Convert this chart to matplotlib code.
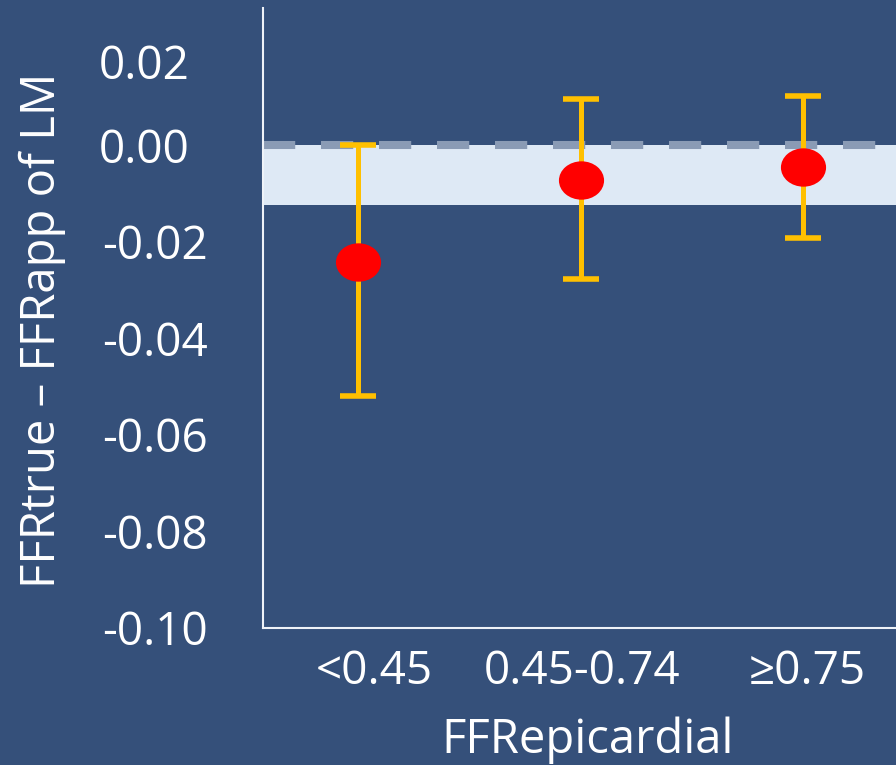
import numpy as np
import matplotlib
matplotlib.use("Agg")
import matplotlib.pyplot as plt
import matplotlib.transforms as mtransforms
from matplotlib.path import Path

# data
groups = ["<0.45", "0.45-0.74", "\u22650.75"]
mean_diff = [-0.0242, -0.0072, -0.0045]
ci_low = [-0.0520, -0.0277, -0.0192]
ci_high = [0.0000, 0.0095, 0.0101]
band_low, band_high = -0.0124, 0.0
y_ticks = [0.02, 0.00, -0.02, -0.04, -0.06, -0.08, -0.10]

BG = "#35507a"
FS = 33
plt.rcParams["font.family"] = ["Open Sans", "DejaVu Sans"]

fig = plt.figure(figsize=(8.96, 7.65), dpi=100)
fig.patch.set_facecolor(BG)
ax = fig.add_axes([263 / 896, 1 - 628 / 765, 1 - 263 / 896, (628 - 8) / 765])
ax.set_facecolor(BG)

x = np.arange(len(groups))
y = np.array(mean_diff)
yerr = np.vstack([y - np.array(ci_low), np.array(ci_high) - y])

# reference band and zero line
ax.axhspan(band_low, band_high, color="#dee9f5", zorder=1, lw=0)
ax.axhline(0, color="#8a9bb5", lw=5.8, dashes=(4, 3.2), zorder=2)

# slightly flattened marker, like the slide
circ = Path.unit_circle()
oval = Path(circ.vertices * np.array([1.0, 0.85]), circ.codes)

ax.errorbar(x, y, yerr=yerr, fmt="none", ecolor="#ffc000", elinewidth=3.6,
            capsize=13.3, capthick=4.0, zorder=3)
ax.plot(x, y, linestyle="none", marker=oval, markersize=32.5,
        color="#ff0000", markeredgewidth=0, zorder=4)

ax.set_xlim(-0.427, 2.418)
ax.set_ylim(-0.10, 0.0284)

ax.set_xticks(x)
ax.set_xticklabels(groups, fontsize=FS, color="white")
ax.set_yticks(y_ticks)
ax.set_yticklabels([f"{v:.2f}" for v in y_ticks], fontsize=FS, color="white")
ax.tick_params(axis="both", length=0)
ax.tick_params(axis="y", pad=40)
ax.tick_params(axis="x", pad=15)

# nudge labels the way they sit on the slide
for lab, v in zip(ax.get_yticklabels(), y_ticks):
    dx = 0 if v < 0 else -18
    dy = -13 if v > 0.01 else 0
    lab.set_transform(lab.get_transform() +
                      mtransforms.Affine2D().translate(dx, dy))
for lab, dx in zip(ax.get_xticklabels(), [16, 2, 4]):
    lab.set_transform(lab.get_transform() +
                      mtransforms.Affine2D().translate(dx, 0))

for side in ["top", "right"]:
    ax.spines[side].set_visible(False)
for side in ["left", "bottom"]:
    ax.spines[side].set_color("#eef2f8")
    ax.spines[side].set_linewidth(1.5)

fig.text(42 / 896, 1 - 330 / 765, "FFRtrue \u2013 FFRapp of LM", rotation=90,
         ha="center", va="center", fontsize=FS + 1, color="white")
fig.text(588 / 896, 1 - 740 / 765, "FFRepicardial", ha="center", va="center",
         fontsize=FS + 1, color="white")

fig.savefig("out.png", dpi=100, facecolor=BG)
